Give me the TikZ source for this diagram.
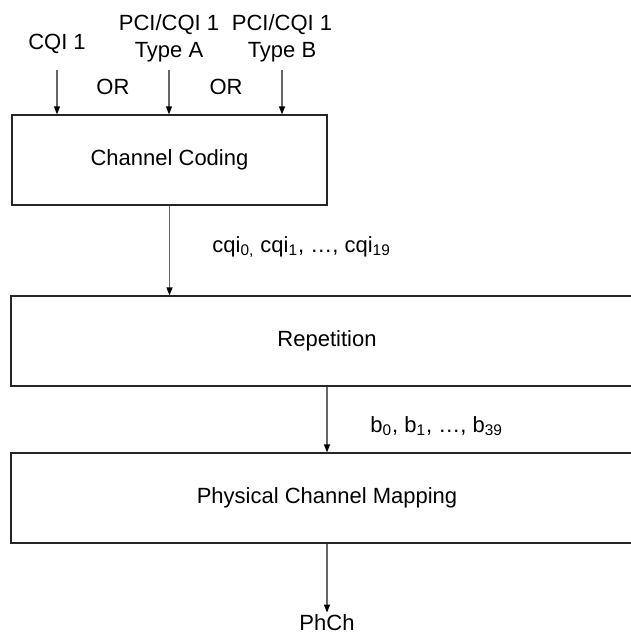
\documentclass[tikz,border=0pt]{standalone}
\usepackage{fontspec}
\setmainfont{Liberation Sans}
\usetikzlibrary{arrows.meta,positioning,calc}
\tikzset{>=stealth}
\tikzset{
	blockbox/.style={draw=black!85, line width=0.6pt, inner sep=0pt, minimum height=45pt},
	flow/.style={draw=black!60, line width=0.6pt, -{Triangle[length=4pt,width=3pt,black]}}
}
\begin{document}
\begin{tikzpicture}[x=0.5pt, y=-0.5pt, every node/.style={font=\fontsize{11}{13.5}\selectfont}]
	\clip (0,0) rectangle (631,633);
	% inputs
	\node[anchor=base] (cqi) at (57,49) {CQI 1};
	\node[align=center] (typeA) at (169,38) {PCI/CQI 1\\Type A};
	\node[align=center] (typeB) at (282,38) {PCI/CQI 1\\Type B};
	\node (orA) at (113,87) {OR};
	\node (orB) at (226,87) {OR};
	\coordinate (intop) at (0,70);
	% blocks
	\node[blockbox, minimum width=157.5pt] (coding) at (169.5,160) {Channel Coding};
	\node[blockbox, minimum width=316pt] (rep) at (327,341) {Repetition};
	\node[blockbox, minimum width=316pt] (map) at (327,498) {Physical Channel Mapping};
	\node[inner sep=1pt] (phch) at (327,623) {PhCh};
	% labels on the links
	\node[anchor=base west, inner sep=0pt] (cqibits) at (212,252) {cqi\textsubscript{0,} cqi\textsubscript{1}, …, cqi\textsubscript{19}};
	\node[anchor=base west, inner sep=0pt] (bbits) at (370,432) {b\textsubscript{0}, b\textsubscript{1}, …, b\textsubscript{39}};
	% arrows
	\foreach \src in {cqi,typeA,typeB}
		\draw[flow] (\src |- intop) -- (\src |- coding.north);
	\draw[flow] (coding.south) -- (coding.south |- rep.north);
	\draw[flow] (rep.south) -- (map.north);
	\draw[flow] (map.south) -- (phch.north);
\end{tikzpicture}
\end{document}
